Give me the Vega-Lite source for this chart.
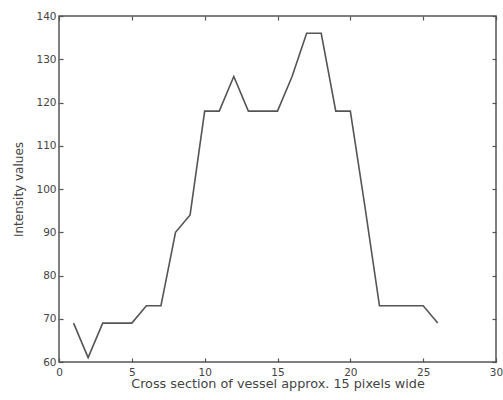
{
  "$schema": "https://vega.github.io/schema/vega-lite/v6.json",
  "width": 437,
  "height": 346,
  "autosize": "none",
  "padding": {"left": 59, "top": 16, "right": 7, "bottom": 38},
  "background": "white",
  "config": {
    "view": {"stroke": "#555", "strokeWidth": 1.5},
    "axis": {
      "domain": false,
      "grid": false,
      "tickColor": "#555",
      "tickSize": -4,
      "tickWidth": 1.2,
      "labelFont": "DejaVu Sans",
      "labelFontSize": 10.5,
      "labelColor": "#444",
      "titleFont": "DejaVu Sans",
      "titleFontSize": 12,
      "titleFontWeight": "normal",
      "titleColor": "#444"
    }
  },
  "data": {
    "values": [
      {"x": 1, "y": 69}, {"x": 2, "y": 61}, {"x": 3, "y": 69}, {"x": 4, "y": 69},
      {"x": 5, "y": 69}, {"x": 6, "y": 73}, {"x": 7, "y": 73}, {"x": 8, "y": 90},
      {"x": 9, "y": 94}, {"x": 10, "y": 118}, {"x": 11, "y": 118}, {"x": 12, "y": 126},
      {"x": 13, "y": 118}, {"x": 14, "y": 118}, {"x": 15, "y": 118}, {"x": 16, "y": 126},
      {"x": 17, "y": 136}, {"x": 18, "y": 136}, {"x": 19, "y": 118}, {"x": 20, "y": 118},
      {"x": 21, "y": 96}, {"x": 22, "y": 73}, {"x": 23, "y": 73}, {"x": 24, "y": 73},
      {"x": 25, "y": 73}, {"x": 26, "y": 69}
    ]
  },
  "layer": [
    {
      "mark": {"type": "line", "color": "#555", "strokeWidth": 1.6},
      "encoding": {
        "x": {
          "field": "x", "type": "quantitative",
          "scale": {"domain": [0, 30], "nice": false},
          "axis": {"orient": "bottom", "values": [0, 5, 10, 15, 20, 25, 30], "labelPadding": 9, "labelFlush": false, "title": "Cross section of vessel approx. 15 pixels wide", "titleFontSize": 12.8, "titlePadding": 0}
        },
        "y": {
          "field": "y", "type": "quantitative",
          "scale": {"domain": [60, 140], "nice": false, "zero": false},
          "axis": {"orient": "left", "values": [60, 70, 80, 90, 100, 110, 120, 130, 140], "labelPadding": 7, "labelFlush": false, "title": "Intensity values", "titlePadding": 10}
        }
      }
    },
    {
      "mark": {"type": "line", "opacity": 0},
      "encoding": {
        "x": {
          "field": "x", "type": "quantitative",
          "scale": {"domain": [0, 30], "nice": false},
          "axis": {"orient": "top", "values": [0, 5, 10, 15, 20, 25, 30], "labels": false, "title": null}
        },
        "y": {
          "field": "y", "type": "quantitative",
          "scale": {"domain": [60, 140], "nice": false, "zero": false},
          "axis": {"orient": "right", "values": [60, 70, 80, 90, 100, 110, 120, 130, 140], "labels": false, "title": null}
        }
      }
    }
  ],
  "resolve": {"axis": {"x": "independent", "y": "independent"}}
}
